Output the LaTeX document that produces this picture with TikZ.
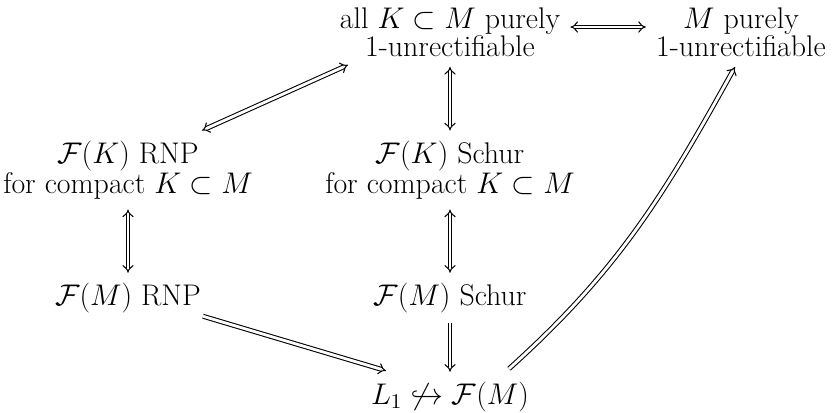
\RequirePackage{fix-cm}
\documentclass[tikz,border=0pt]{standalone}
\usepackage{amsmath, amssymb}
\usepackage{tikz}
\usetikzlibrary{arrows.meta, positioning}

\begin{document}
\begin{tikzpicture}[
        node distance=2.5cm and 6cm, on grid,
        cell/.style={align=center, inner sep=0.2cm, font=\fontsize{17}{16}\selectfont},
        imp/.style={double, double distance=1.6pt, line width=0.6pt, -{Implies}},
        iff/.style={imp, {Implies}-{Implies}}
      ]
        \useasboundingbox (0,0) rectangle (16.76,-8.26);

        \node[cell] (AK) at (9.0,-0.64) {all $K\subset M$ purely\\1-unrectifiable};
        \node[cell, right=5.82cm of AK] (MP) {$M$ purely\\1-unrectifiable};
        \node[cell, below=2.76cm of AK] (SK) {$\mathcal{F}(K)$ Schur\\for compact $K\subset M$};
        \node[cell, left=6.44cm of SK] (RK) {$\mathcal{F}(K)$ RNP\\for compact $K\subset M$};
        \node[cell, below=2.56cm of SK] (SM) {$\mathcal{F}(M)$ Schur};
        \node[cell, below=2.56cm of RK] (RM) {$\mathcal{F}(M)$ RNP};
        \node[cell, below=1.98cm of SM] (L1) {$L_1\not\hookrightarrow\mathcal{F}(M)$};

        \draw[iff] ([yshift=0.1cm]AK.east) -- ([yshift=0.1cm]MP.west);
        \draw[iff] ([xshift=-2.04cm, yshift=0.04cm]AK.south) -- ([xshift=1.48cm]RK.north);
        \draw[iff] (AK) -- (SK);
        \draw[iff] (RK) -- (RM);
        \draw[iff] (SK) -- (SM);
        \draw[imp] (SM) -- (L1);
        \draw[imp] ([xshift=1.5cm, yshift=0.14cm]RM.south) -- ([xshift=-1.28cm, yshift=0.02cm]L1.north);
        \draw[imp] ([xshift=1.18cm, yshift=0.06cm]L1.north) to[out=42, in=-119] ([xshift=-0.12cm]MP.south);
      \end{tikzpicture}
\end{document}
